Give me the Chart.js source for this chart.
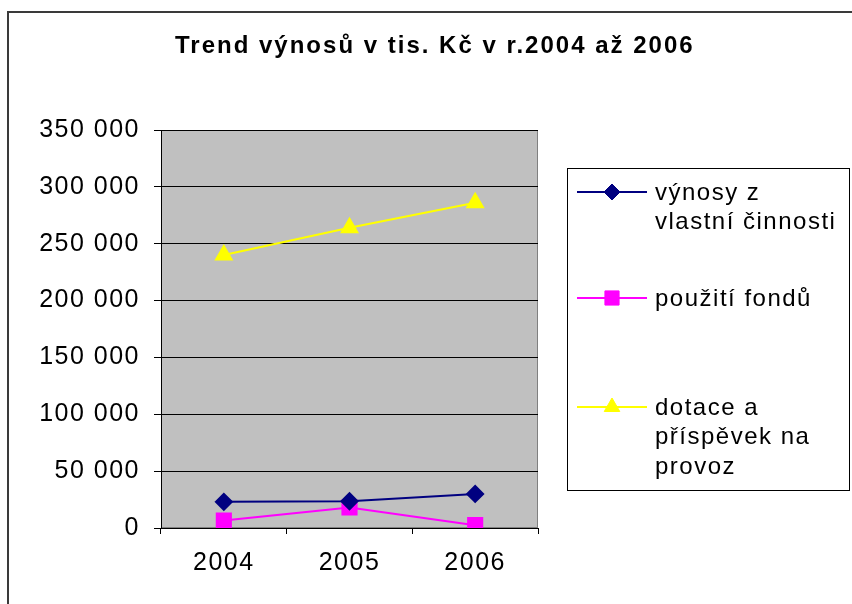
<!DOCTYPE html>
<html>
<head>
<meta charset="utf-8">
<script src="https://cdn.jsdelivr.net/npm/chart.js@4/dist/chart.umd.min.js"></script>
<style>
html,body{margin:0;padding:0;background:#fff;}
canvas{display:block;}
</style>
</head>
<body>
<canvas id="c" width="852" height="604"></canvas>
<script>
const titleText = 'Trend výnosů v tis. Kč v r.2004 až 2006';
const categories = ['2004', '2005', '2006'];
const vynosy = [23000, 23500, 30000];
const fondy = [6500, 18000, 2500];
const dotace = [240000, 264000, 286000];
const seriesNames = [['výnosy z', 'vlastní činnosti'], ['použití fondů'], ['dotace a', 'příspěvek na', 'provoz']];
const yTicks = [0, 50000, 100000, 150000, 200000, 250000, 300000, 350000];

const FONT = 'Liberation Sans, Arial, sans-serif';

function fmt(v) {
  return String(v).replace(/\B(?=(\d{3})+(?!\d))/g, ' ');
}

const decor = {
  id: 'decor',
  beforeDraw(chart) {
    const ctx = chart.ctx;
    const a = chart.chartArea;
    ctx.save();
    ctx.fillStyle = '#ffffff';
    ctx.fillRect(0, 0, chart.width, chart.height);
    ctx.strokeStyle = '#3a3a3a';
    ctx.lineWidth = 2;
    ctx.strokeRect(8, 12, chart.width + 20, chart.height + 20);
    ctx.fillStyle = '#c0c0c0';
    ctx.fillRect(a.left, a.top, a.right - a.left, a.bottom - a.top);
    ctx.strokeStyle = '#808080';
    ctx.lineWidth = 1;
    ctx.strokeRect(a.left + 0.5, a.top + 0.5, a.right - a.left - 1, a.bottom - a.top - 1);
    // title
    ctx.fillStyle = '#000';
    ctx.font = 'bold 24px ' + FONT;
    ctx.textAlign = 'left';
    ctx.textBaseline = 'alphabetic';
    ctx.letterSpacing = '2px';
    ctx.fillText(titleText, 175, 53);
    ctx.restore();
    ctx.letterSpacing = '1.5px';
  },
  afterDraw(chart) {
    const ctx = chart.ctx;
    ctx.save();
    ctx.strokeStyle = '#000';
    ctx.lineWidth = 1;
    ctx.strokeRect(567.5, 168.5, 282, 322);
    const rows = [192, 298, 407];
    chart.data.datasets.forEach((ds, i) => {
      const y = rows[i];
      ctx.strokeStyle = ds.borderColor;
      ctx.lineWidth = 2;
      ctx.beginPath();
      ctx.moveTo(577, y);
      ctx.lineTo(647, y);
      ctx.stroke();
      ctx.fillStyle = ds.pointBackgroundColor;
      ctx.strokeStyle = ds.pointBorderColor;
      ctx.lineWidth = 1;
      Chart.helpers.drawPoint(ctx, {pointStyle: ds.pointStyle, radius: ds.pointRadius, rotation: 0, borderWidth: 1}, 612, y);
      ctx.font = '24px ' + FONT;
      ctx.letterSpacing = '1.5px';
      ctx.textAlign = 'left';
      ctx.textBaseline = 'middle';
      ctx.fillStyle = '#000';
      seriesNames[i].forEach((t, k) => ctx.fillText(t, 655, y + 1 + k * 29.5));
    });
    ctx.restore();
  }
};

new Chart(document.getElementById('c'), {
  type: 'line',
  data: {
    labels: categories,
    datasets: [
      {label: 'výnosy z vlastní činnosti', data: vynosy, borderColor: '#000080', backgroundColor: '#000080',
       pointBackgroundColor: '#000080', pointBorderColor: '#000080', pointStyle: 'rectRot', pointRadius: 8, borderWidth: 2, tension: 0},
      {label: 'použití fondů', data: fondy, borderColor: '#ff00ff', backgroundColor: '#ff00ff',
       pointBackgroundColor: '#ff00ff', pointBorderColor: '#ff00ff', pointStyle: 'rect', pointRadius: 10, borderWidth: 2, tension: 0},
      {label: 'dotace a příspěvek na provoz', data: dotace, borderColor: '#ffff00', backgroundColor: '#ffff00',
       pointBackgroundColor: '#ffff00', pointBorderColor: '#ffff00', pointStyle: 'triangle', pointRadius: 9, borderWidth: 2, tension: 0}
    ]
  },
  options: {
    responsive: false,
    animation: false,
    events: [],
    layout: {padding: {left: 0, right: 314, top: 130, bottom: 0}},
    plugins: {legend: {display: false}, title: {display: false}, tooltip: {enabled: false}},
    scales: {
      x: {
        offset: true,
        grid: {display: true, drawOnChartArea: false, drawTicks: true, tickLength: 6, color: '#000', offset: true},
        border: {display: true, color: '#000', width: 1},
        ticks: {color: '#000', font: {family: FONT, size: 25}, padding: 14},
        afterFit(s) { s.height = 76; }
      },
      y: {
        min: 0, max: 350000,
        afterBuildTicks(s) { s.ticks = yTicks.map(v => ({value: v})); },
        grid: {color: '#000', lineWidth: 1, drawTicks: true, tickLength: 7},
        border: {display: true, color: '#000', width: 1},
        ticks: {color: '#000', font: {family: FONT, size: 25}, padding: 14, callback: v => fmt(v)},
        afterFit(s) { s.width = 161; }
      }
    }
  },
  plugins: [decor]
});
</script>
</body>
</html>
